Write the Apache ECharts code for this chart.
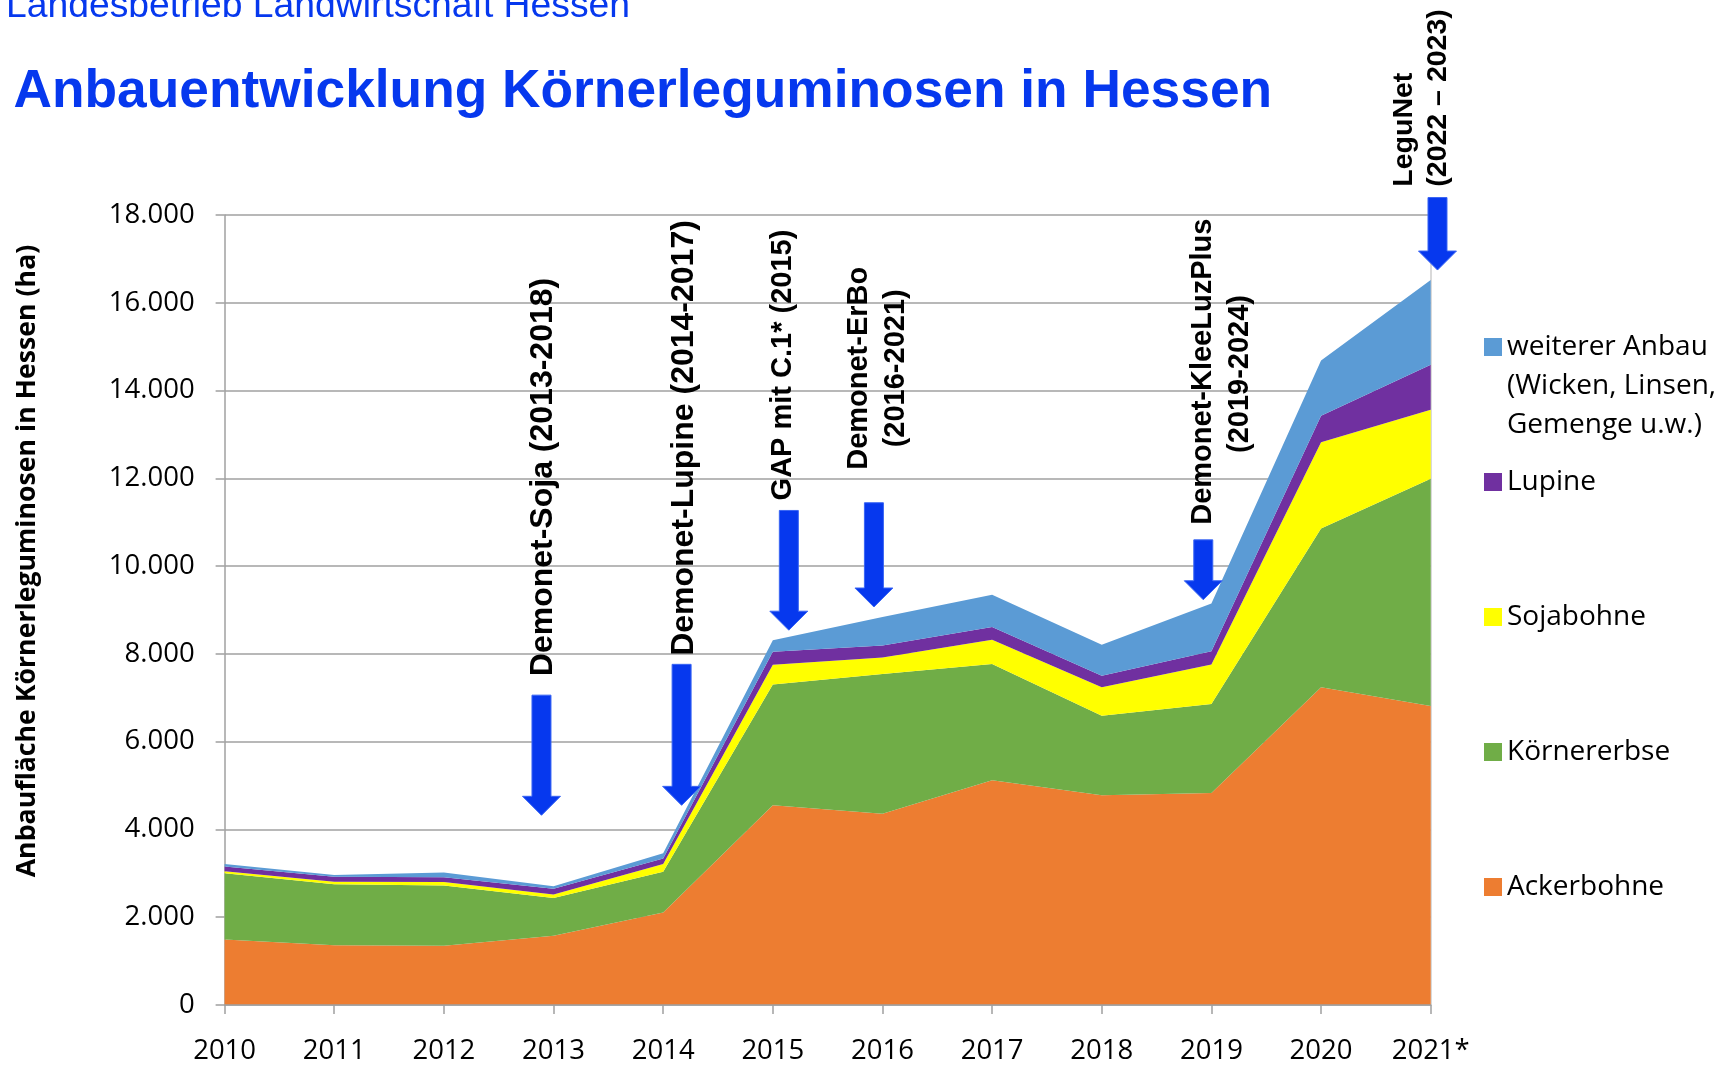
<!DOCTYPE html>
<html>
<head>
<meta charset="utf-8">
<title>Anbauentwicklung Körnerleguminosen in Hessen</title>
<script src="https://cdn.jsdelivr.net/npm/echarts@6/dist/echarts.min.js"></script>
<style>
html, body { margin: 0; padding: 0; background: #fff; }
#chart { width: 1735px; height: 1065px; }
</style>
</head>
<body>
<div id="chart"></div>
<script>
// Jahre und Anbauflächen (ha), von unten nach oben gestapelt
var years = ['2010', '2011', '2012', '2013', '2014', '2015', '2016', '2017', '2018', '2019', '2020', '2021*'];
var ackerbohne = [1490, 1360, 1350, 1580, 2110, 4550, 4360, 5120, 4780, 4830, 7240, 6810];
var koernererbse = [1510, 1390, 1370, 860, 925, 2750, 3180, 2650, 1810, 2030, 3615, 5180];
var sojabohne = [50, 60, 80, 80, 175, 450, 380, 550, 650, 900, 1970, 1570];
var lupine = [105, 110, 112, 128, 130, 300, 270, 290, 260, 300, 600, 1030];
var weitererAnbau = [60, 40, 105, 55, 120, 260, 650, 740, 710, 1090, 1260, 1930];

var seriesNames = ['Ackerbohne', 'Körnererbse', 'Sojabohne', 'Lupine', 'weiterer Anbau'];
var seriesData = [ackerbohne, koernererbse, sojabohne, lupine, weitererAnbau];
var seriesColors = ['#ED7D31', '#70AD47', '#FFFF00', '#7030A0', '#5B9BD5'];
var legendOrder = ['weiterer Anbau', 'Lupine', 'Sojabohne', 'Körnererbse', 'Ackerbohne'];

// Projekt-Pfeile: Kategorie-Position (Index), Anfang und Spitze in ha
var arrowAt = [2.89, 4.168, 5.146, 5.922, 8.926, 11.062];
var arrowFrom = [7060, 7762, 11268, 11444, 10598, 18398];
var arrowTo = [4322, 4549, 8540, 9068, 9233, 16746];

var blue = '#0638ee';
var gridGray = '#a0a0a0';
var labelFont = 'Open Sans';

var chartDom = document.getElementById('chart');
var myChart = echarts.init(chartDom);
var option;

option = {
    animation: false,
    grid: {
        left: 224.6,
        right: 304.3,
        top: 215,
        bottom: 55
    },
    legend: {
        orient: 'vertical',
        left: 1484,
        top: 332,
        padding: 0,
        itemWidth: 18,
        itemHeight: 18,
        itemGap: 105,
        icon: 'rect',
        data: legendOrder,
        textStyle: {
            fontFamily: labelFont,
            fontSize: 28,
            color: '#000',
            lineHeight: 30
        }
    },
    xAxis: {
        type: 'category',
        boundaryGap: false,
        data: years,
        z: 3,
        axisLine: { lineStyle: { color: gridGray, width: 1.5 } },
        axisTick: { show: true, length: 9, lineStyle: { color: gridGray, width: 1.5 } },
        axisLabel: {
            interval: 0,
            margin: 32,
            color: '#000',
            fontFamily: labelFont,
            fontSize: 27.5
        }
    },
    yAxis: [
        {
            type: 'value',
            min: 0,
            max: 18000,
            interval: 2000,
            axisLine: { show: true, lineStyle: { color: gridGray, width: 1.5 } },
            axisTick: { show: true, length: 9, lineStyle: { color: gridGray, width: 1.5 } },
            axisLabel: {
                margin: 30,
                color: '#000',
                fontFamily: labelFont,
                fontSize: 27.5,
                formatter: function (v) {
                    return v === 0 ? '0' : (v / 1000).toFixed(3);
                }
            },
            splitLine: { lineStyle: { color: gridGray, width: 1.5 } }
        },
        {
            type: 'value',
            position: 'right',
            min: 0,
            max: 18000,
            axisLine: { show: true, lineStyle: { color: '#cccccc', width: 1.5 } },
            axisTick: { show: false },
            axisLabel: { show: false },
            splitLine: { show: false }
        }
    ],
    series: seriesNames.map(function (name, i) {
        return {
            name: name,
            type: 'line',
            stack: 'flaeche',
            data: seriesData[i],
            symbol: 'none',
            color: seriesColors[i],
            lineStyle: { width: 0 },
            areaStyle: { color: seriesColors[i], opacity: 1 }
        };
    })
};

option && myChart.setOption(option);

// Texte und Pfeile
function xPix(idx) {
    var x0 = myChart.convertToPixel({ xAxisIndex: 0 }, 0);
    var x1 = myChart.convertToPixel({ xAxisIndex: 0 }, 1);
    return x0 + idx * (x1 - x0);
}
function yPix(v) {
    return myChart.convertToPixel({ yAxisIndex: 0 }, v);
}

var graphics = [];

graphics.push({
    type: 'text', x: 6, y: 7, z: 10,
    style: { text: 'Landesbetrieb Landwirtschaft Hessen', fontFamily: 'Liberation Sans', fontSize: 37.3, fill: blue, verticalAlign: 'middle' }
});
graphics.push({
    type: 'text', x: 13.5, y: 92.5, z: 10,
    style: { text: 'Anbauentwicklung Körnerleguminosen in Hessen', fontFamily: 'Liberation Sans', fontWeight: 'bold', fontSize: 53.3, fill: blue, verticalAlign: 'middle' }
});
graphics.push({
    type: 'text', x: 27, y: 561, rotation: Math.PI / 2, z: 10,
    style: { text: 'Anbaufläche Körnerleguminosen in Hessen (ha)', fontFamily: labelFont, fontWeight: 'bold', fontSize: 26.7, fill: '#000', align: 'center', verticalAlign: 'middle' }
});
graphics.push({
    type: 'text', x: 1507, y: 386, z: 10,
    style: { text: '(Wicken, Linsen,', fontFamily: labelFont, fontSize: 28, fill: '#000', verticalAlign: 'middle' }
});
graphics.push({
    type: 'text', x: 1507, y: 425, z: 10,
    style: { text: 'Gemenge u.w.)', fontFamily: labelFont, fontSize: 28, fill: '#000', verticalAlign: 'middle' }
});

var notes = [
    { text: 'Demonet-Soja (2013-2018)', x: 543, y: 477, size: 32, align: 'center' },
    { text: 'Demonet-Lupine (2014-2017)', x: 684, y: 438, size: 32, align: 'center' },
    { text: 'GAP mit C.1* (2015)', x: 783.3, y: 365, size: 29, align: 'center' },
    { text: 'Demonet-ErBo', x: 859.3, y: 368.3, size: 29, align: 'center' },
    { text: '(2016-2021)', x: 896, y: 368.3, size: 29, align: 'center' },
    { text: 'Demonet-KleeLuzPlus', x: 1203, y: 371.7, size: 29, align: 'center' },
    { text: '(2019-2024)', x: 1240, y: 374, size: 29, align: 'center' },
    { text: 'LeguNet', x: 1404.4, y: 186.7, size: 28.5, align: 'left' },
    { text: '(2022 \u2013 2023)', x: 1438.4, y: 186.7, size: 28.5, align: 'left' }
];
notes.forEach(function (n) {
    graphics.push({
        type: 'text', x: n.x, y: n.y, rotation: Math.PI / 2, z: 10,
        style: { text: n.text, fontFamily: 'Liberation Sans', fontWeight: 'bold', fontSize: n.size, fill: '#000', align: n.align, verticalAlign: 'middle' }
    });
});

arrowAt.forEach(function (idx, i) {
    var cx = xPix(idx);
    var top = yPix(arrowFrom[i]);
    var tip = yPix(arrowTo[i]);
    var base = tip - 19;
    graphics.push({
        type: 'polygon', z: 10,
        shape: {
            points: [
                [cx - 9.5, top], [cx + 9.5, top], [cx + 9.5, base], [cx + 19, base],
                [cx, tip], [cx - 19, base], [cx - 9.5, base]
            ]
        },
        style: { fill: blue, stroke: '#3a66f4', lineWidth: 1 }
    });
});

myChart.setOption({ graphic: graphics });
</script>
</body>
</html>
